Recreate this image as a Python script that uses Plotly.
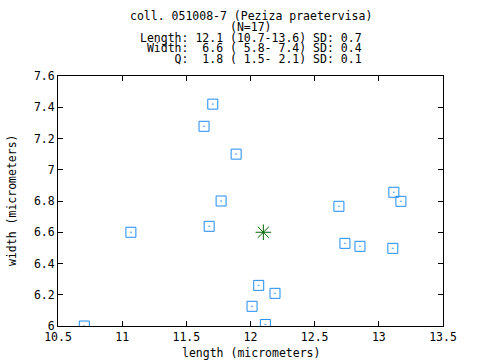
import plotly.graph_objects as go

# Spore measurements (micrometers)
length = [11.706, 11.638, 11.888, 11.771, 11.678, 12.689, 13.117, 13.172, 13.109,
          12.736, 12.853, 12.064, 12.191, 12.012, 12.116, 10.705, 11.068]
width = [7.42, 7.278, 7.10, 6.80, 6.638, 6.766, 6.856, 6.798, 6.497,
         6.529, 6.51, 6.26, 6.209, 6.126, 6.01, 6.0, 6.60]
mean_length = [12.1]
mean_width = [6.6]

title_lines = [
    "coll. 051008-7 (Peziza praetervisa)",
    "(N=17)",
    "Length: 12.1 (10.7-13.6) SD: 0.7",
    " Width:  6.6 ( 5.8- 7.4) SD: 0.4",
    "     Q:  1.8 ( 1.5- 2.1) SD: 0.1",
]
x_ticks = [10.5, 11, 11.5, 12, 12.5, 13, 13.5]
x_ticklabels = ["10.5", "11", "11.5", "12", "12.5", "13", "13.5"]
y_ticks = [6, 6.2, 6.4, 6.6, 6.8, 7, 7.2, 7.4, 7.6]
y_ticklabels = ["6", "6.2", "6.4", "6.6", "6.8", "7", "7.2", "7.4", "7.6"]

FONT = "DejaVu Sans Mono"
FS = 11.5

fig = go.Figure()
fig.add_trace(go.Scatter(
    x=length, y=width, mode="markers",
    marker=dict(symbol="square-open-dot", size=10, color="#1e8cf5",
                line=dict(width=1, color="#1e8cf5")),
    showlegend=False, hoverinfo="x+y"))
fig.add_trace(go.Scatter(
    x=mean_length, y=mean_width, mode="markers",
    marker=dict(symbol="asterisk-open", size=13, color="#006400",
                line=dict(width=1, color="#006400")),
    showlegend=False))

W, H = 480, 360
L, R, T, B = 58, 37, 76, 34
plot_h = H - T - B

annotations = []
title_y_px = [16, 27, 38, 48.5, 59]
for txt, py in zip(title_lines, title_y_px):
    annotations.append(dict(
        text=txt.replace(" ", "\u00a0"), xref="paper", yref="paper",
        x=0.5, y=(H - B - py) / plot_h, xanchor="center", yanchor="middle",
        showarrow=False, borderpad=0,
        font=dict(family=FONT, size=FS, color="black")))
annotations.append(dict(
    text="length\u00a0(micrometers)", xref="paper", yref="paper",
    x=0.5, y=-(353 - (H - B)) / plot_h, xanchor="center", yanchor="middle",
    showarrow=False, font=dict(family=FONT, size=FS, color="black")))
annotations.append(dict(
    text="width\u00a0(micrometers)", xref="paper", yref="paper",
    x=-(L - 12) / (W - L - R), y=(H - B - 200) / plot_h, xanchor="center",
    yanchor="middle", textangle=-90, showarrow=False,
    font=dict(family=FONT, size=FS, color="black")))

axis_common = dict(showgrid=False, zeroline=False, showline=True, linecolor="black",
                   linewidth=1, mirror="ticks", ticks="inside", ticklen=5,
                   tickcolor="black", tickwidth=1,
                   tickfont=dict(family=FONT, size=FS, color="black"))

fig.update_layout(
    width=W, height=H, margin=dict(l=L, r=R, t=T, b=B),
    paper_bgcolor="white", plot_bgcolor="white",
    xaxis=dict(range=[10.5, 13.5], tickvals=x_ticks, ticktext=x_ticklabels, **axis_common),
    yaxis=dict(range=[6, 7.6], tickvals=y_ticks, ticktext=y_ticklabels, **axis_common),
    annotations=annotations, showlegend=False,
)
fig.write_html("out.html", config={"displayModeBar": False},
               post_script="document.body.style.margin='0px';document.body.style.padding='0px';")
